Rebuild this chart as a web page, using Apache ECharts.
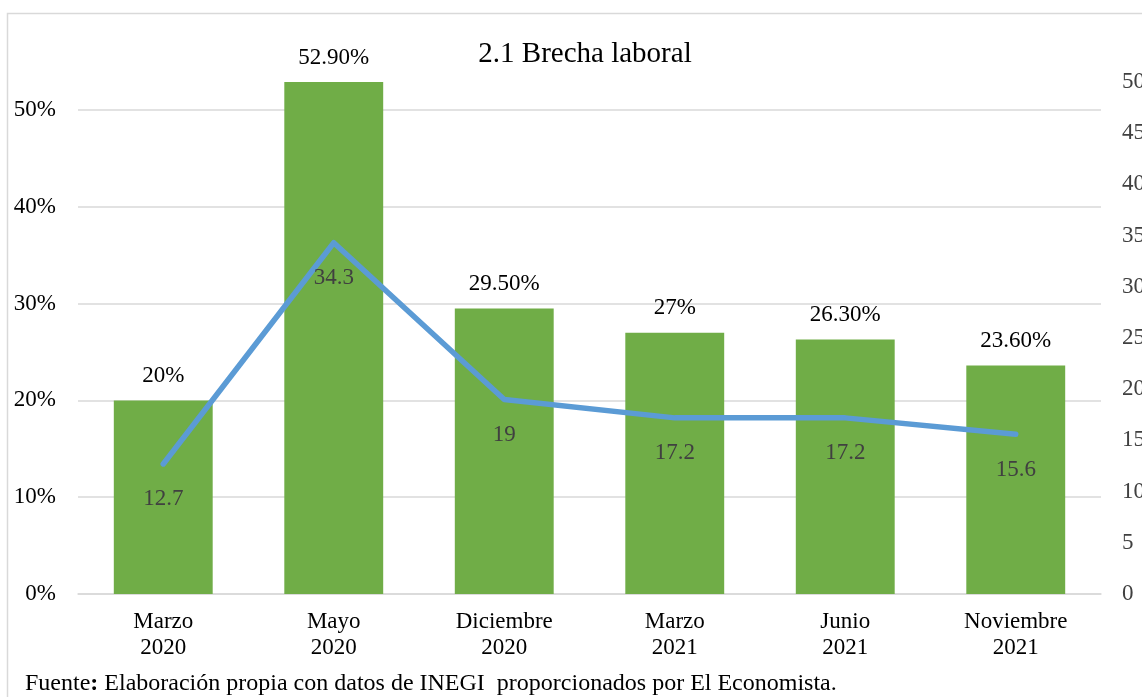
<!DOCTYPE html>
<html>
<head>
<meta charset="utf-8">
<script src="https://cdn.jsdelivr.net/npm/echarts@6/dist/echarts.min.js"></script>
<style>
html,body{margin:0;padding:0;background:#fff;}
#c{width:1142px;height:697px;}
</style>
</head>
<body>
<div id="c"></div>
<script>
const categories = ['Marzo\n2020','Mayo\n2020','Diciembre\n2020','Marzo\n2021','Junio\n2021','Noviembre\n2021'];
const barValues = [0.20, 0.529, 0.295, 0.27, 0.263, 0.236];
const barLabels = ['20%','52.90%','29.50%','27%','26.30%','23.60%'];
const lineValues = [12.7, 34.3, 19, 17.2, 17.2, 15.6];
const leftTicks = [0, 0.1, 0.2, 0.3, 0.4, 0.5];
const rightTicks = [0,5,10,15,20,25,30,35,40,45,50];

const FONT = '"Liberation Serif", "Times New Roman", serif';
const FS = 23;
const chart = echarts.init(document.getElementById('c'));
chart.setOption({
  backgroundColor: '#fff',
  animation: false,
  title: {
    text: '2.1 Brecha laboral',
    left: 580, top: 35, textAlign: 'center',
    textStyle: {fontFamily: FONT, fontSize: 29, fontWeight: 'normal', color: '#000'}
  },
  graphic: [
    {type:'rect', shape:{x:7.5,y:13.5,width:1200,height:760}, style:{fill:'none', stroke:'#d9d9d9', lineWidth:1.5}, silent:true},
    {type:'text', left: 25, top: 672, style:{
      text:'{a|Fuente}{b|:}{a| Elaboración propia con datos de INEGI  proporcionados por El Economista.}',
      rich:{a:{fontFamily:FONT,fontSize:24,fill:'#000'}, b:{fontFamily:FONT,fontSize:24,fontWeight:'bold',fill:'#000'}}
    }}
  ],
  grid: {left: 78, right: 41, top: 82, bottom: 103, containLabel: false, outerBoundsMode: 'none'},
  xAxis: {
    type: 'category', data: categories,
    axisLine: {show: true, lineStyle: {color: '#d9d9d9', width: 1.5}},
    axisTick: {show: false},
    axisLabel: {fontFamily: FONT, fontSize: FS, color: '#000', lineHeight: 26, margin: 15}
  },
  yAxis: [
    {
      type: 'value', min: 0, max: 0.529, interval: 0.1,
      axisLine: {show: false}, axisTick: {show: false},
      splitLine: {lineStyle: {color: '#d9d9d9', width: 1.5}, showMaxLine: false},
      axisLabel: {
        fontFamily: FONT, fontSize: FS, color: '#000', margin: 22, showMaxLabel: false,
        formatter: v => leftTicks.some(t => Math.abs(t - v) < 1e-6) ? Math.round(v*100) + '%' : ''
      }
    },
    {
      type: 'value', min: 0, max: 50, interval: 5,
      axisLine: {show: false}, axisTick: {show: false}, splitLine: {show: false},
      axisLabel: {
        fontFamily: FONT, fontSize: FS, color: '#404040', margin: 21, align: 'left',
        formatter: v => rightTicks.includes(v) ? String(v) : ''
      }
    }
  ],
  series: [
    {
      type: 'bar', data: barValues, yAxisIndex: 0, barWidth: '58%',
      itemStyle: {color: '#70AD47'},
      label: {show: true, position: 'top', distance: 13, fontFamily: FONT, fontSize: FS, color: '#000',
        formatter: p => barLabels[p.dataIndex]}
    },
    {
      type: 'line', data: lineValues, yAxisIndex: 1,
      symbol: 'circle', symbolSize: 4, showSymbol: true,
      itemStyle: {color: '#5B9BD5'},
      lineStyle: {color: '#5B9BD5', width: 5.5, cap: 'round', join: 'round'},
      label: {show: true, position: 'bottom', distance: 22, fontFamily: FONT, fontSize: FS, color: '#404040'},
      labelLayout: {hideOverlap: false},
      z: 5
    }
  ]
});
</script>
</body>
</html>
